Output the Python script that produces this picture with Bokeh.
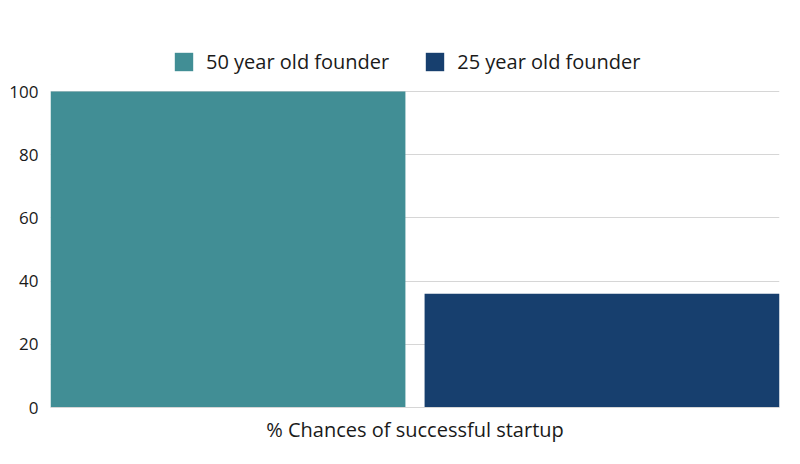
from bokeh.plotting import figure
from bokeh.models import ColumnDataSource, FactorRange, Legend, LegendItem, FixedTicker
from bokeh.embed import file_html
from bokeh.resources import INLINE

# data
founders = ["50 year old founder", "25 year old founder"]
chances = [100, 36]
colors = ["#418E95", "#173F6E"]
y_ticks = [0, 20, 40, 60, 80, 100]
axis_title = "% Chances of successful startup"

FONT = "Open Sans"
TEXT = "#1a1a1a"

source = ColumnDataSource(data=dict(founder=founders, chance=chances, color=colors))

# the range goes a little past 100 so that the legend has room inside the frame
p = figure(
    width=784,
    height=448,
    x_range=FactorRange(*founders, factor_padding=0.054, range_padding=0),
    y_range=(0, 116.5),
    output_backend="svg",
    toolbar_location=None,
    min_border_left=50,
    min_border_right=5,
    min_border_bottom=41,
    min_border_top=39,
)

bars = p.vbar(x="founder", top="chance", width=1.0, source=source,
              fill_color="color", line_color=None)

p.outline_line_color = None

p.xgrid.grid_line_color = None
p.ygrid.grid_line_color = "#d6d6d6"

p.yaxis.ticker = FixedTicker(ticks=y_ticks)
p.yaxis.axis_line_color = None
p.yaxis.major_tick_line_color = None
p.yaxis.minor_tick_line_color = None
p.yaxis.major_tick_out = 0
p.yaxis.major_label_text_font = FONT
p.yaxis.major_label_text_font_size = "17px"
p.yaxis.major_label_text_color = TEXT
p.yaxis.major_label_standoff = 12

p.xaxis.axis_line_color = "#d6d6d6"
p.xaxis.major_tick_line_color = None
p.xaxis.minor_tick_line_color = None
p.xaxis.major_tick_out = 0
p.xaxis.major_label_text_font_size = "1px"
p.xaxis.major_label_text_alpha = 0
p.xaxis.major_label_standoff = 0
p.xaxis.axis_label = axis_title
p.xaxis.axis_label_text_font = FONT
p.xaxis.axis_label_text_font_style = "normal"
p.xaxis.axis_label_text_font_size = "20px"
p.xaxis.axis_label_text_color = TEXT
p.xaxis.axis_label_standoff = 8

legend = Legend(
    items=[LegendItem(label=f, renderers=[bars], index=i) for i, f in enumerate(founders)],
    orientation="horizontal",
    location=(122, 332),
    glyph_width=23,
    glyph_height=23,
    label_text_font=FONT,
    label_text_font_size="20px",
    label_text_color=TEXT,
    label_standoff=11,
    spacing=34,
    border_line_color=None,
    background_fill_alpha=0,
    padding=0,
    margin=0,
)
p.add_layout(legend)

open("out.html", "w").write(file_html(p, INLINE))
